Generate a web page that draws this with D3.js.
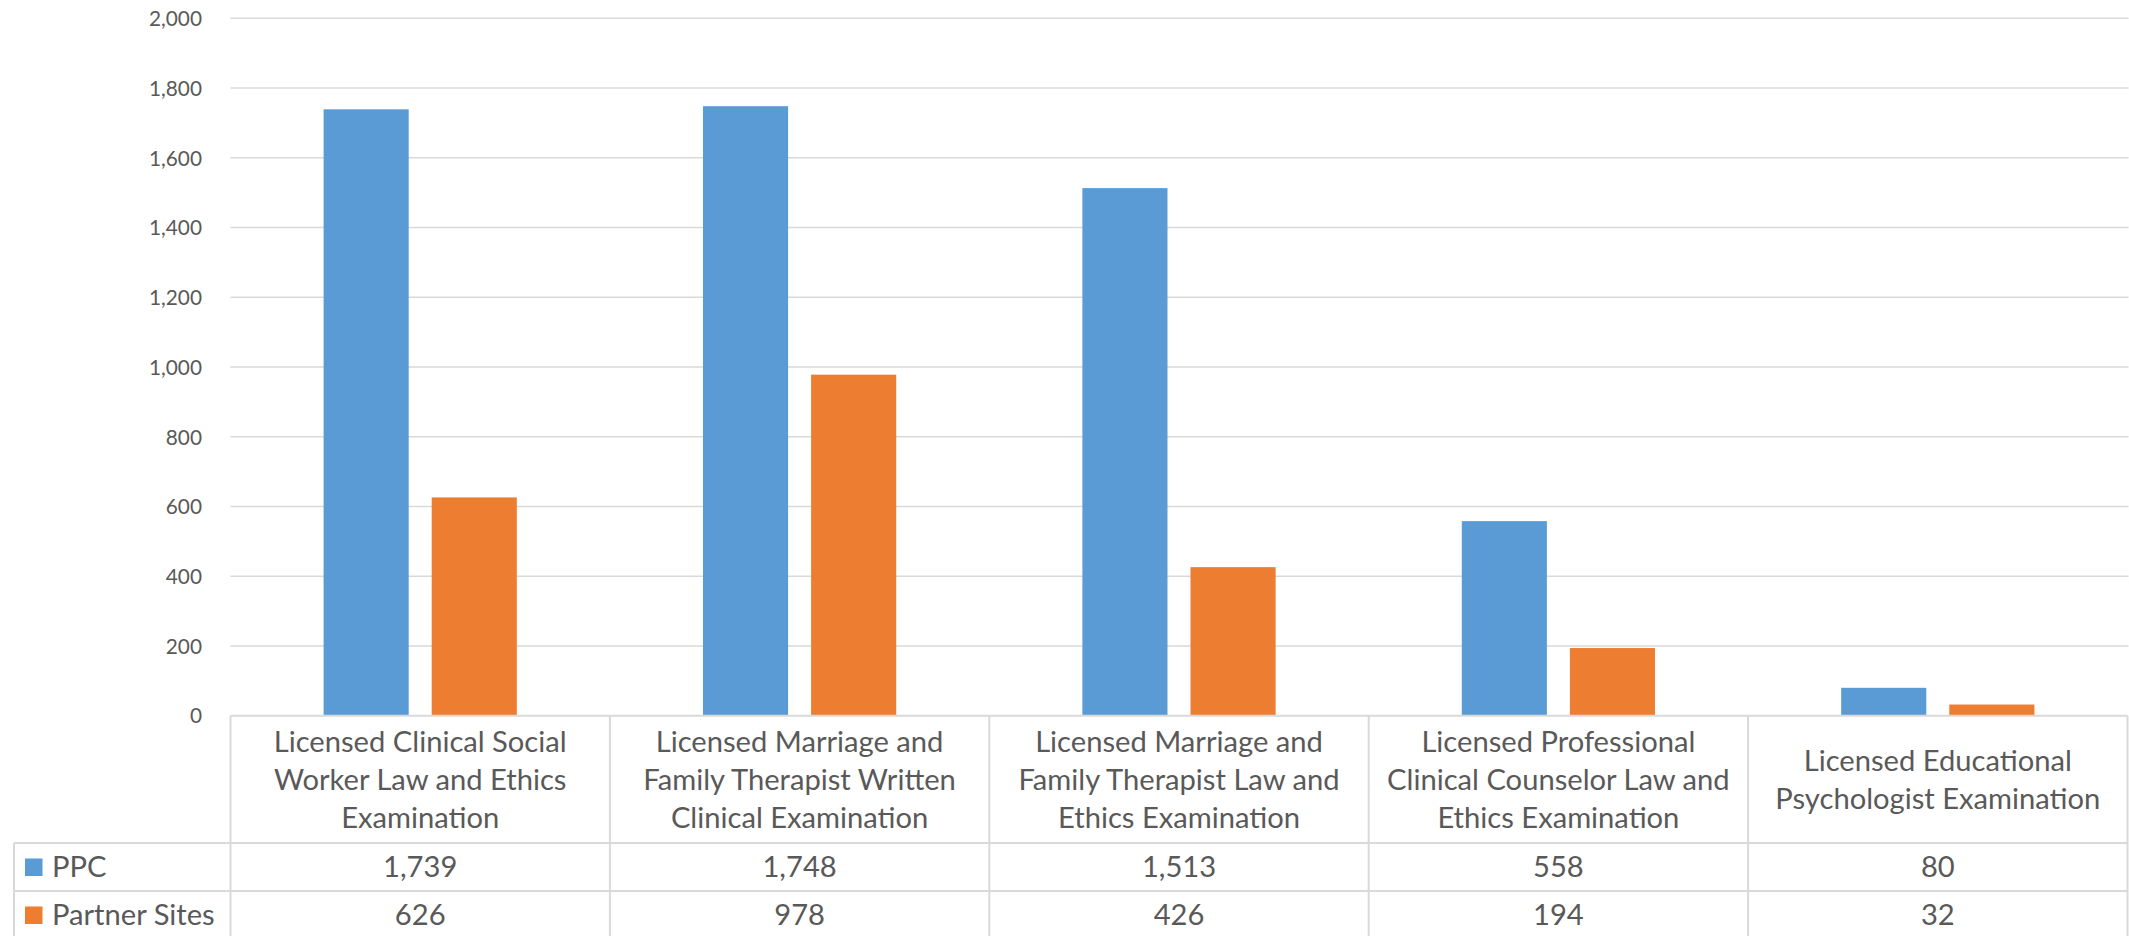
<!DOCTYPE html>
<html>
<head>
<meta charset="utf-8">
<script src="https://cdn.jsdelivr.net/npm/d3@7"></script>
<style>
  html, body { margin: 0; padding: 0; background: #ffffff; }
  svg { display: block; }
</style>
</head>
<body>
<svg id="chart" width="2129" height="936"></svg>
<script>
// ---- data ----
const categories = [
  "Licensed Clinical Social Worker Law and Ethics Examination",
  "Licensed Marriage and Family Therapist Written Clinical Examination",
  "Licensed Marriage and Family Therapist Law and Ethics Examination",
  "Licensed Professional Clinical Counselor Law and Ethics Examination",
  "Licensed Educational Psychologist Examination"
];
const categoryLines = [
  ["Licensed Clinical Social", "Worker Law and Ethics", "Examination"],
  ["Licensed Marriage and", "Family Therapist Written", "Clinical Examination"],
  ["Licensed Marriage and", "Family Therapist Law and", "Ethics Examination"],
  ["Licensed Professional", "Clinical Counselor Law and", "Ethics Examination"],
  ["Licensed Educational", "Psychologist Examination"]
];
const seriesNames = ["PPC", "Partner Sites"];
const ppcValues = [1739, 1748, 1513, 558, 80];
const partnerValues = [626, 978, 426, 194, 32];
const yTicks = [0, 200, 400, 600, 800, 1000, 1200, 1400, 1600, 1800, 2000];
const seriesColors = ["#5B9BD5", "#ED7D31"];

const seriesValues = [ppcValues, partnerValues];

// ---- layout ----
const W = 2129, H = 936;
const plotLeft = 230.5, plotRight = 2127.5;
const plotTop = 18.3, plotBottom = 715.7;
const tableLeft = 14;
const catRowBottom = 843;
const rowH = 48;
const gridColor = "#D9D9D9";
const textColor = "#595959";
const family = "Lato, 'Open Sans', sans-serif";

const svg = d3.select("#chart");

function fitSize(str, target) {
  const t = svg.append("text").style("font-family", family).style("font-size", "100px").text(str);
  const w = t.node().getComputedTextLength();
  t.remove();
  return 100 * target / w;
}
const tableFont = fitSize("Licensed Clinical Social", 293);
const axisFont = fitSize("2,000", 53);

const y = d3.scaleLinear().domain([0, 2000]).range([plotBottom, plotTop]);
const x0 = d3.scaleBand().domain(categories).range([plotLeft, plotRight]).padding(0);
const x1 = d3.scaleBand().domain(seriesNames).range([0, x0.bandwidth()])
  .paddingInner(0.2128).paddingOuter(0.861);

// gridlines
svg.append("g").selectAll("line").data(yTicks.filter(d => d !== 0)).join("line")
  .attr("x1", plotLeft).attr("x2", plotRight + 1)
  .attr("y1", d => y(d)).attr("y2", d => y(d))
  .attr("stroke", gridColor).attr("stroke-width", 1.5);

// y axis labels
const yAxis = svg.append("g")
  .attr("transform", `translate(${202},0)`)
  .call(d3.axisLeft(y).tickValues(yTicks).tickSize(0).tickPadding(0).tickFormat(d3.format(",")));
yAxis.select(".domain").remove();
yAxis.selectAll("text")
  .style("font-family", family).style("font-size", axisFont + "px")
  .attr("fill", textColor).attr("dy", "0.35em");

// bars
const groups = svg.append("g").selectAll("g").data(categories).join("g")
  .attr("transform", d => `translate(${x0(d)},0)`);
groups.selectAll("rect")
  .data((d, i) => seriesNames.map((s, j) => ({ s, v: seriesValues[j][i], c: seriesColors[j] })))
  .join("rect")
  .attr("x", d => x1(d.s))
  .attr("width", x1.bandwidth())
  .attr("y", d => y(d.v))
  .attr("height", d => y(0) - y(d.v))
  .attr("fill", d => d.c);

// ---- data table ----
const tbl = svg.append("g");
const tableBottom = catRowBottom + rowH * seriesNames.length;
const line = (x1_, y1_, x2_, y2_) => tbl.append("line")
  .attr("x1", x1_).attr("y1", y1_).attr("x2", x2_).attr("y2", y2_)
  .attr("stroke", gridColor).attr("stroke-width", 2);

// top border of category row (the zero line)
line(plotLeft, y(0), plotRight, y(0));
// row lines
seriesNames.forEach((s, j) => {
  line(tableLeft, catRowBottom + rowH * j, plotRight, catRowBottom + rowH * j);
});
line(tableLeft, tableBottom, plotRight, tableBottom);
// verticals
line(tableLeft, catRowBottom, tableLeft, tableBottom);
categories.forEach(c => line(x0(c), y(0), x0(c), tableBottom));
line(plotRight, y(0), plotRight, tableBottom);

// category labels
const catCenterY = (y(0) + catRowBottom) / 2;
const linePitch = 38;
categories.forEach((c, i) => {
  const lines = categoryLines[i];
  const t = tbl.append("text")
    .attr("text-anchor", "middle")
    .style("font-family", family).style("font-size", tableFont + "px")
    .attr("fill", textColor);
  lines.forEach((ln, k) => {
    t.append("tspan")
      .attr("x", x0(c) + x0.bandwidth() / 2)
      .attr("y", catCenterY + (k - (lines.length - 1) / 2) * linePitch)
      .attr("dy", "0.35em")
      .text(ln);
  });
});

// series rows
seriesNames.forEach((s, j) => {
  const cy = catRowBottom + rowH * j + rowH / 2;
  tbl.append("rect")
    .attr("x", 25).attr("y", cy - 8.5).attr("width", 17.5).attr("height", 17.5)
    .attr("fill", seriesColors[j]);
  tbl.append("text")
    .attr("x", 52).attr("y", cy).attr("dy", "0.35em")
    .style("font-family", family).style("font-size", tableFont + "px")
    .attr("fill", textColor).text(s);
  categories.forEach((c, i) => {
    tbl.append("text")
      .attr("x", x0(c) + x0.bandwidth() / 2).attr("y", cy).attr("dy", "0.35em")
      .attr("text-anchor", "middle")
      .style("font-family", family).style("font-size", tableFont + "px")
      .attr("fill", textColor).text(d3.format(",")(seriesValues[j][i]));
  });
});
</script>
</body>
</html>
